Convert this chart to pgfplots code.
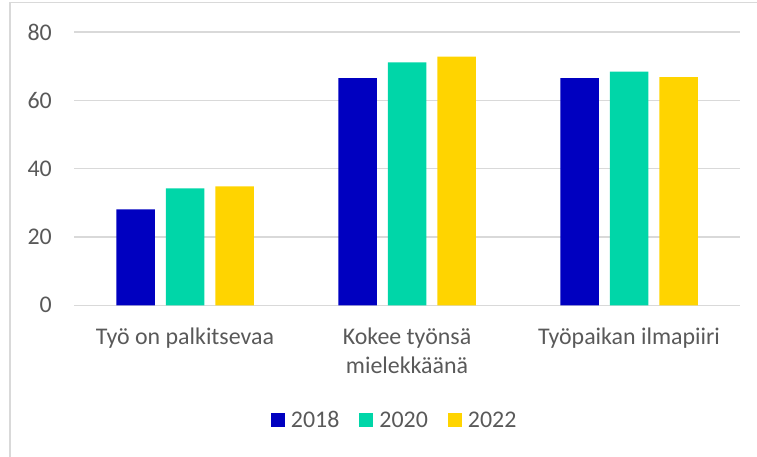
\documentclass[border=0pt]{standalone}
\usepackage{pgfplots}
\pgfplotsset{compat=1.18}
\usepackage{fontspec}
\setmainfont{Carlito}

\definecolor{c2018}{RGB}{0,0,192}
\definecolor{c2020}{RGB}{0,214,168}
\definecolor{c2022}{RGB}{255,212,0}
\definecolor{txtgray}{RGB}{89,89,89}
\definecolor{gridgray}{RGB}{217,217,217}

\begin{document}
\begin{tikzpicture}
\useasboundingbox (0,0) rectangle (757bp,457bp);
\draw[gridgray, line width=1.5bp] (10bp,0) -- (10bp,454.3bp) -- (757bp,454.3bp);
\begin{axis}[
    at={(74bp,151.7bp)}, anchor=south west,
    scale only axis,
    width=666bp, height=273.3bp,
    xmin=-0.5, xmax=2.5,
    ymin=0, ymax=80,
    ytick={0,20,40,60,80},
    xtick={0,1,2},
    xticklabels={{Työ on palkitsevaa}, {Kokee työnsä\\mielekkäänä}, {Työpaikan ilmapiiri}},
    ybar=11bp,
    bar width=38.5bp,
    axis line style={draw=none},
    major tick length=0pt,
    ymajorgrids,
    grid style={gridgray, line width=1.3bp},
    extra y ticks={0},
    extra y tick labels={},
    extra y tick style={grid style={gridgray, line width=1.5bp}},
    font=\fontsize{24}{29.5}\selectfont,
    /pgf/number format/assume math mode=true,
    ticklabel style={text=txtgray, inner sep=0pt},
    yticklabel style={anchor=east, xshift=-22bp},
    xticklabel style={anchor=north, yshift=-22bp, align=center},
    legend columns=-1,
    legend style={
        at={(0.48,-0.42)}, anchor=center,
        draw=none, fill=none,
        font=\fontsize{24}{28}\selectfont, text=txtgray,
        nodes={inner sep=0pt},
        /tikz/every odd column/.append style={column sep=6bp},
        /tikz/every even column/.append style={column sep=20bp},
    },
    legend image code/.code={
        \fill[#1] (0bp,-7bp) rectangle (14bp,7bp);
    },
]
\addplot[fill=c2018, draw=none] coordinates {(0,28.1) (1,66.5) (2,66.5)};
\addplot[fill=c2020, draw=none] coordinates {(0,34.25) (1,71.1) (2,68.4)};
\addplot[fill=c2022, draw=none] coordinates {(0,34.8) (1,72.8) (2,66.8)};
\legend{2018,2020,2022}
\end{axis}
\end{tikzpicture}
\end{document}
